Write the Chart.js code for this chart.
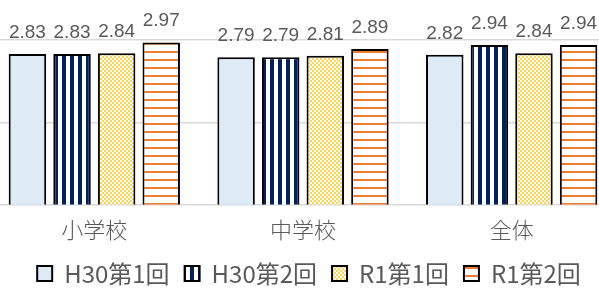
<!DOCTYPE html>
<html>
<head>
<meta charset="utf-8">
<script src="https://cdn.jsdelivr.net/npm/chart.js@4.4.0/dist/chart.umd.min.js"></script>
<style>
  html, body { margin: 0; padding: 0; background: #fff; overflow: hidden; }
  #wrap { position: absolute; left: -10px; top: 0; width: 626px; height: 295px; }
</style>
</head>
<body>
<div id="wrap"><canvas id="barChart"></canvas></div>
<script>
// chart data
var categories = ['小学校', '中学校', '全体'];
var seriesNames = ['H30第1回', 'H30第2回', 'R1第1回', 'R1第2回'];
var h30first = [2.83, 2.79, 2.82];
var h30second = [2.83, 2.79, 2.94];
var r1first = [2.84, 2.81, 2.84];
var r1second = [2.97, 2.89, 2.94];

function makePattern(w, h, draw) {
  var c = document.createElement('canvas');
  c.width = w; c.height = h;
  var g = c.getContext('2d');
  draw(g);
  return g.createPattern(c, 'repeat');
}

var ctx = document.getElementById('barChart').getContext('2d');

var fillPlain = '#DDEBF7';
var fillVert = makePattern(8, 8, function (g) {
  g.fillStyle = '#fff'; g.fillRect(0, 0, 8, 8);
  g.fillStyle = '#002060'; g.fillRect(0, 0, 4, 8);
});
var fillCheck = makePattern(4, 4, function (g) {
  g.fillStyle = '#fff'; g.fillRect(0, 0, 4, 4);
  g.fillStyle = '#FFD34F';
  g.fillRect(0, 0, 2, 2); g.fillRect(2, 2, 2, 2);
});
var fillHoriz = makePattern(8, 8, function (g) {
  g.fillStyle = '#fff'; g.fillRect(0, 0, 8, 8);
  g.fillStyle = '#ED7D31'; g.fillRect(0, 3, 8, 2);
});

var valueLabels = {
  id: 'valueLabels',
  afterDatasetsDraw: function (chart) {
    var c = chart.ctx;
    c.save();
    c.font = '19px "Liberation Sans", Arial, sans-serif';
    c.fillStyle = '#595959';
    c.textAlign = 'center';
    c.textBaseline = 'alphabetic';
    chart.data.datasets.forEach(function (ds, i) {
      chart.getDatasetMeta(i).data.forEach(function (el, j) {
        c.fillText(ds.data[j].toFixed(2), el.x, el.y - 16);
      });
    });
    c.restore();
  }
};

// move the legend to where the original sits
var legendPlace = {
  id: 'legendPlace',
  afterLayout: function (chart) {
    var L = chart.legend;
    var h = L.bottom - L.top;
    L.top = 271 - h / 2;
    L.bottom = L.top + h;
    L.left += 6;
    L.right += 6;
  }
};

function ds(label, data, bg) {
  return {
    label: label,
    data: data,
    backgroundColor: bg,
    borderColor: '#000',
    borderWidth: 2,
    categoryPercentage: 0.855,
    barPercentage: 0.84
  };
}

var barChart = new Chart(ctx, {
  type: 'bar',
  data: {
    labels: categories,
    datasets: [
      ds(seriesNames[0], h30first, fillPlain),
      ds(seriesNames[1], h30second, fillVert),
      ds(seriesNames[2], r1first, fillCheck),
      ds(seriesNames[3], r1second, fillHoriz)
    ]
  },
  options: {
    responsive: true,
    maintainAspectRatio: false,
    animation: false,
    layout: { padding: { top: 40, bottom: -1 } },
    scales: {
      x: {
        grid: { display: false },
        border: { display: false },
        ticks: {
          color: '#595959',
          padding: 4,
          font: { family: '"Noto Sans CJK JP"', size: 22, weight: 300 }
        }
      },
      y: {
        min: 1,
        max: 3,
        ticks: { display: false, stepSize: 1 },
        grid: { color: '#D9D9D9', lineWidth: 1.5, drawTicks: false },
        border: { display: false }
      }
    },
    plugins: {
      tooltip: { enabled: false },
      legend: {
        position: 'bottom',
        labels: {
          color: '#595959',
          boxWidth: 15,
          boxHeight: 15,
          padding: 15,
          font: { family: '"Noto Sans CJK JP"', size: 24 }
        }
      }
    }
  },
  plugins: [valueLabels, legendPlace]
});
</script>
</body>
</html>
